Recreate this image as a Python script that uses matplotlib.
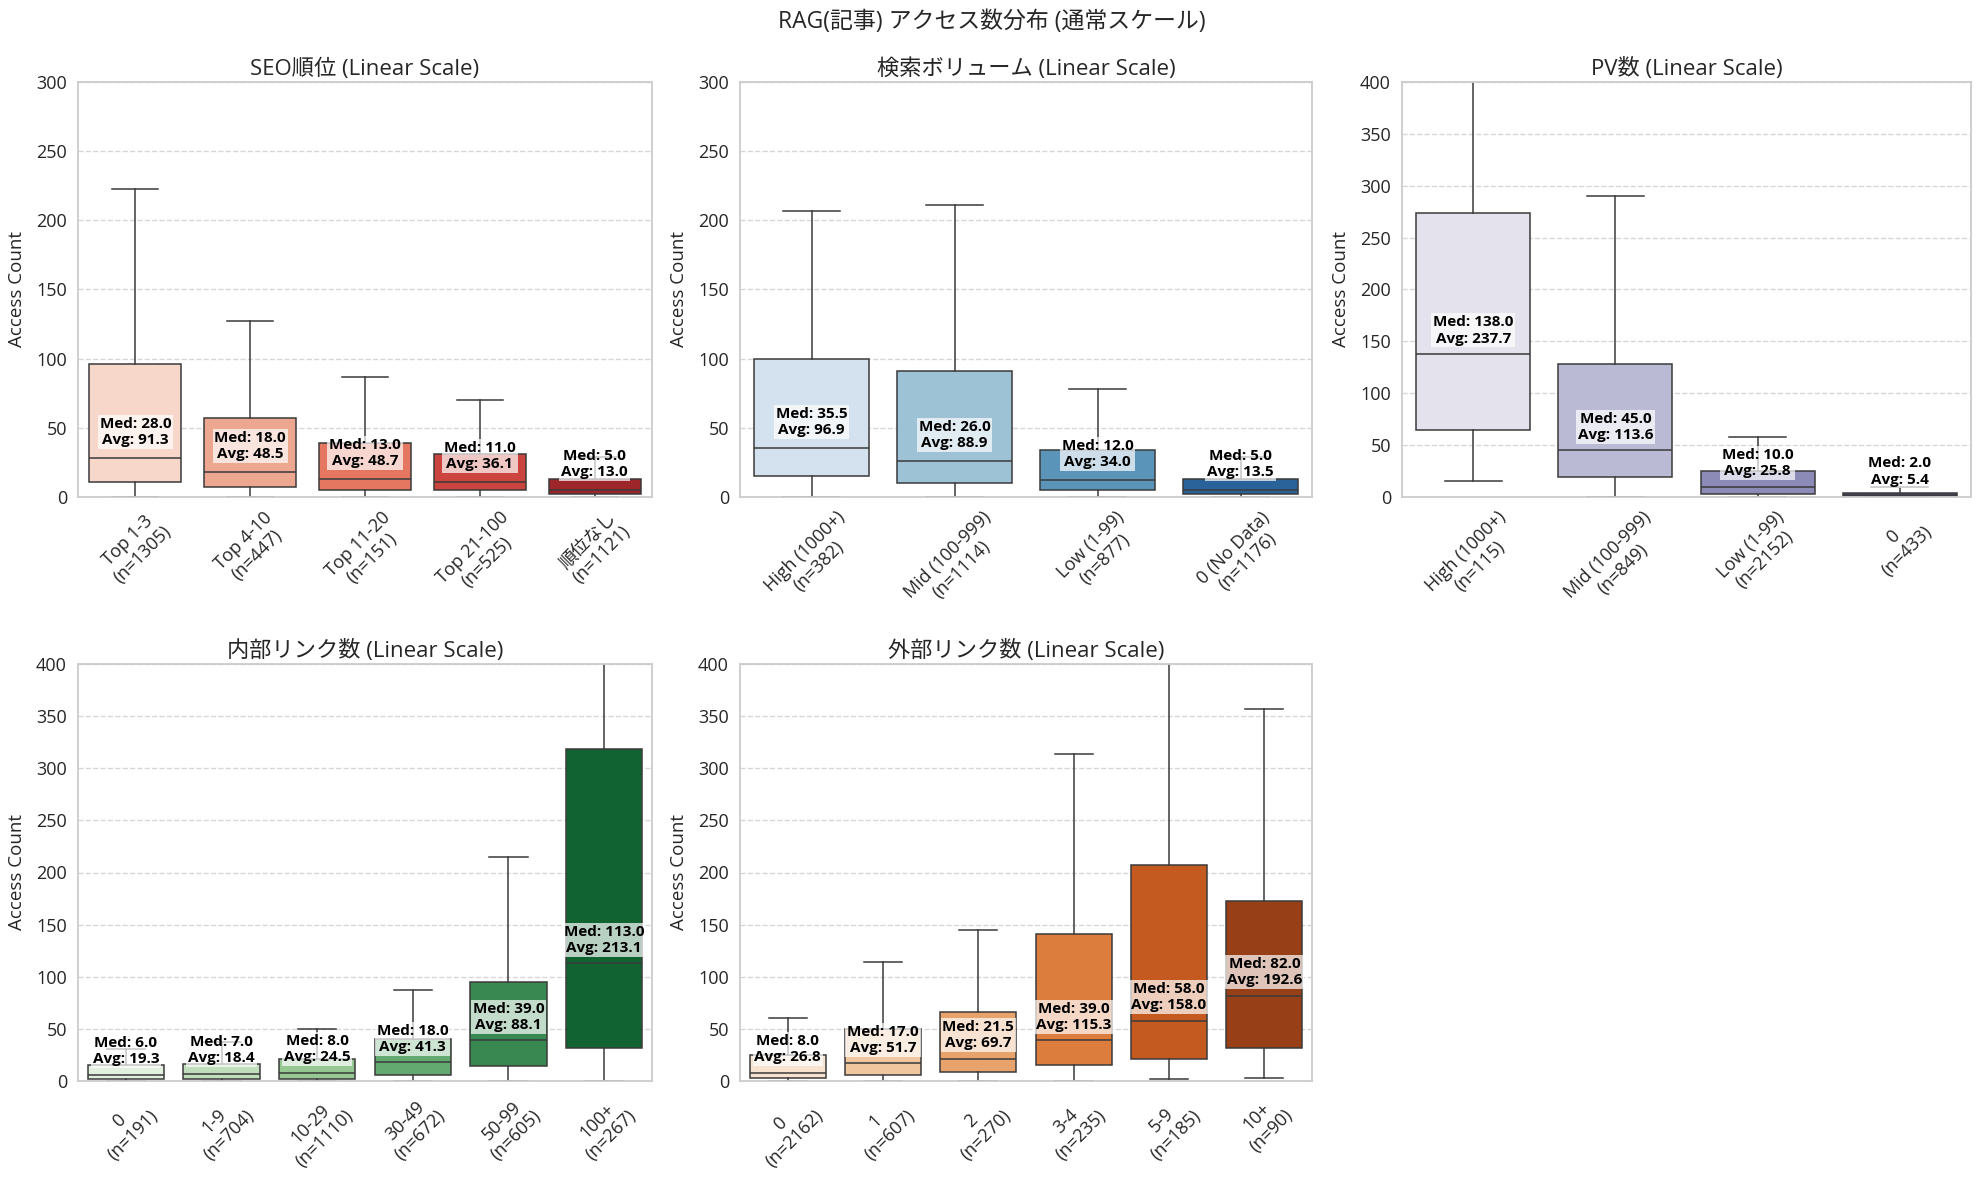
import matplotlib
matplotlib.use("Agg")
import matplotlib.pyplot as plt
import seaborn as sns
import numpy as np

plt.rcParams['font.family'] = ['Open Sans', 'Noto Sans CJK JP', 'DejaVu Sans']

# ---------------- data ----------------
seo_labels = ["Top 1-3", "Top 4-10", "Top 11-20", "Top 21-100", "順位なし"]
seo_n = [1305, 447, 151, 525, 1121]
seo_lo = [0, 0, 0, 0, 0]
seo_q1 = [11, 7, 5, 5, 2]
seo_med = [28.0, 18.0, 13.0, 11.0, 5.0]
seo_q3 = [96, 57, 39, 31, 13]
seo_hi = [223, 127, 87, 70, 29]
seo_mean = [91.3, 48.5, 48.7, 36.1, 13.0]

vol_labels = ["High (1000+)", "Mid (100-999)", "Low (1-99)", "0 (No Data)"]
vol_n = [382, 1114, 877, 1176]
vol_lo = [0, 0, 0, 0]
vol_q1 = [15, 10, 5, 2]
vol_med = [35.5, 26.0, 12.0, 5.0]
vol_q3 = [100, 91, 34, 13]
vol_hi = [207, 211, 78, 29]
vol_mean = [96.9, 88.9, 34.0, 13.5]

pv_labels = ["High (1000+)", "Mid (100-999)", "Low (1-99)", "0"]
pv_n = [115, 849, 2152, 433]
pv_lo = [15, 0, 0, 0]
pv_q1 = [65, 19, 3, 1]
pv_med = [138.0, 45.0, 10.0, 2.0]
pv_q3 = [274, 128, 25, 4]
pv_hi = [580, 290, 58, 10]
pv_mean = [237.7, 113.6, 25.8, 5.4]

int_labels = ["0", "1-9", "10-29", "30-49", "50-99", "100+"]
int_n = [191, 704, 1110, 672, 605, 267]
int_lo = [0, 0, 0, 0, 0, 0]
int_q1 = [2, 2, 2, 6, 14, 32]
int_med = [6.0, 7.0, 8.0, 18.0, 39.0, 113.0]
int_q3 = [15, 16, 21, 40, 95, 318]
int_hi = [31, 37, 50, 87, 215, 700]
int_mean = [19.3, 18.4, 24.5, 41.3, 88.1, 213.1]

ext_labels = ["0", "1", "2", "3-4", "5-9", "10+"]
ext_n = [2162, 607, 270, 235, 185, 90]
ext_lo = [0, 0, 0, 0, 2, 3]
ext_q1 = [3, 6, 9, 15, 21, 32]
ext_med = [8.0, 17.0, 21.5, 39.0, 58.0, 82.0]
ext_q3 = [25, 50, 66, 141, 207, 173]
ext_hi = [60, 114, 145, 314, 470, 357]
ext_mean = [26.8, 51.7, 69.7, 115.3, 158.0, 192.6]

panels = [
    ("SEO順位 (Linear Scale)", seo_labels, seo_n, seo_lo, seo_q1, seo_med, seo_q3, seo_hi, seo_mean, "Reds", 300),
    ("検索ボリューム (Linear Scale)", vol_labels, vol_n, vol_lo, vol_q1, vol_med, vol_q3, vol_hi, vol_mean, "Blues", 300),
    ("PV数 (Linear Scale)", pv_labels, pv_n, pv_lo, pv_q1, pv_med, pv_q3, pv_hi, pv_mean, "Purples", 400),
    ("内部リンク数 (Linear Scale)", int_labels, int_n, int_lo, int_q1, int_med, int_q3, int_hi, int_mean, "Greens", 400),
    ("外部リンク数 (Linear Scale)", ext_labels, ext_n, ext_lo, ext_q1, ext_med, ext_q3, ext_hi, ext_mean, "Oranges", 400),
]

W, H = 1984, 1178
fig = plt.figure(figsize=(W / 100, H / 100), dpi=100)

col_x = [(78, 652), (740, 1312), (1402, 1971)]
row_y = [(82, 497), (664, 1081)]
pos = [(0, 0), (0, 1), (0, 2), (1, 0), (1, 1)]

text_c = '#262626'
line_c = '#3a3a3a'

for (title, labels, ns, lo, q1, med, q3, hi, mean, cmap, ymax), (r, c) in zip(panels, pos):
    x0, x1 = col_x[c]
    y0, y1 = row_y[r]
    ax = fig.add_axes([x0 / W, 1 - y1 / H, (x1 - x0) / W, (y1 - y0) / H])
    k = len(labels)
    pal = sns.color_palette(cmap, k)
    cols = [sns.desaturate(p, 0.75) for p in pal]
    stats = []
    for i in range(k):
        stats.append(dict(med=med[i], q1=q1[i], q3=q3[i], whislo=lo[i], whishi=hi[i], fliers=[]))
    bp = ax.bxp(stats, positions=np.arange(k), widths=0.8, patch_artist=True,
                showfliers=False, manage_ticks=False,
                boxprops=dict(edgecolor=line_c, linewidth=1.1),
                medianprops=dict(color=line_c, linewidth=1.1),
                whiskerprops=dict(color=line_c, linewidth=1.1),
                capprops=dict(color=line_c, linewidth=1.1))
    for patch, col in zip(bp['boxes'], cols):
        patch.set_facecolor(col)
    for i in range(k):
        ax.text(i, med[i] + 8, f"Med: {med[i]:.1f}\nAvg: {mean[i]:.1f}",
                ha='center', va='bottom', fontsize=11, fontweight='bold', color='black',
                linespacing=1.2,
                bbox=dict(facecolor='white', alpha=0.7, edgecolor='none', boxstyle='square,pad=0.12'),
                zorder=5)
    ax.set_xlim(-0.5, k - 0.5)
    ax.set_ylim(0, ymax)
    ax.set_yticks(np.arange(0, ymax + 1, 50))
    ax.set_xticks(np.arange(k))
    ax.set_xticklabels([f"{l}\n(n={n})" for l, n in zip(labels, ns)], rotation=45, ha='center',
                       fontsize=13, color=text_c, linespacing=1.15)
    ax.tick_params(axis='y', labelsize=13, colors=text_c, length=0, pad=8)
    ax.tick_params(axis='x', length=0, pad=8)
    ax.set_ylabel("Access Count", fontsize=13.5, color=text_c, labelpad=7)
    ax.set_title(title, fontsize=16, color=text_c, pad=5)
    ax.grid(axis='y', linestyle='--', color='#cccccc', alpha=0.8, linewidth=1)
    ax.set_axisbelow(True)
    for s in ax.spines.values():
        s.set_color('#cccccc')
        s.set_linewidth(1.3)

fig.suptitle("RAG(記事) アクセス数分布 (通常スケール)", fontsize=16.5, color=text_c, y=1 - 22 / H, va='center')

fig.savefig("out.png", dpi=100, facecolor='white')
